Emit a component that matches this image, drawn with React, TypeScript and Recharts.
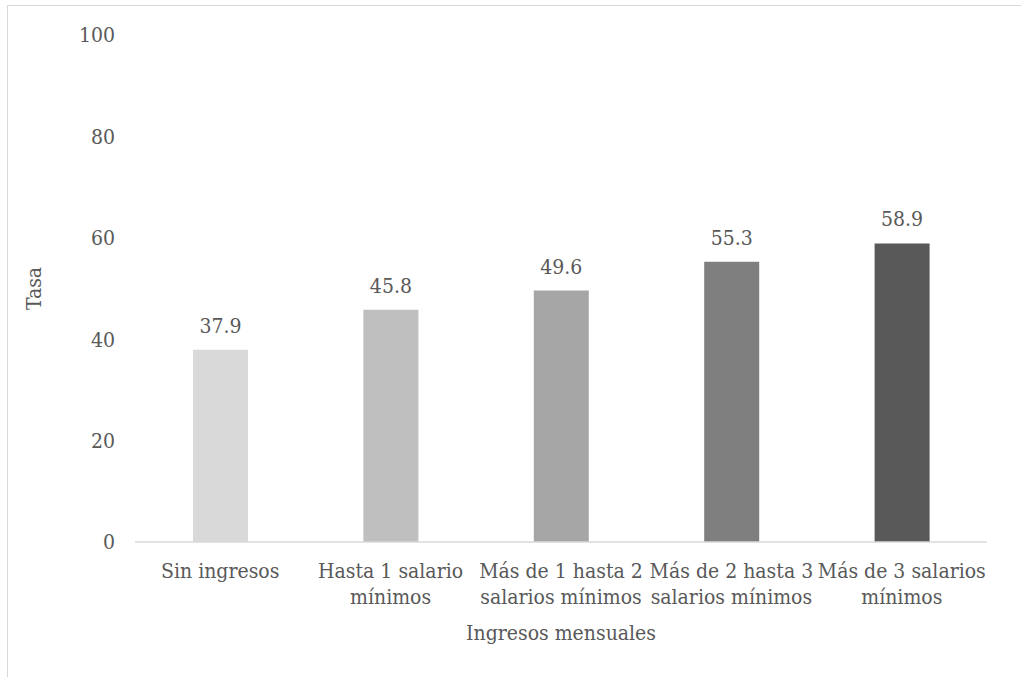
import React from "react";
import {Bar, BarChart, Cell, LabelList, XAxis, YAxis, Label} from "recharts";

const categories = [
    "Sin ingresos",
    "Hasta 1 salario\nmínimos",
    "Más de 1 hasta 2\nsalarios mínimos",
    "Más de 2 hasta 3\nsalarios mínimos",
    "Más de 3 salarios\nmínimos",
];
const tasa = [37.9, 45.8, 49.6, 55.3, 58.9];
const barColors = ["#d9d9d9", "#bfbfbf", "#a6a6a6", "#7f7f7f", "#595959"];
const yTicks = [0, 20, 40, 60, 80, 100];

const chartData = categories.map((c, i) => ({category: c, tasa: tasa[i]}));

const font = "'DejaVu Serif Condensed', 'DejaVu Serif', serif";
const fontSize = 21;
const textColor = "#595959";

const CategoryTick = (props: any) => {
    const {x, y, payload} = props;
    const lines = String(payload.value).split("\n");
    return (
        <text x={x} y={y} textAnchor="middle" fill={textColor} style={{fontSize, fontFamily: font}}>
            {lines.map((l, i) => (
                <tspan key={i} x={x} dy={i === 0 ? 36 : 26}>{l}</tspan>
            ))}
        </text>
    );
};

const TasaLabel = (props: any) => {
    const vb = props.viewBox;
    const cy = vb.y + vb.height / 2;
    return (
        <text x={41} y={cy} transform={`rotate(-90, 41, ${cy})`} textAnchor="middle"
              fill={textColor} style={{fontSize, fontFamily: font}}>Tasa</text>
    );
};

const App: React.FunctionComponent = () => {
    return (
        <div style={{position: "fixed", left: 0, top: 0, width: 1021, height: 677, overflow: "hidden", background: "#fff"}}>
            <div style={{position: "absolute", left: 7, top: 5, width: 1040, height: 720, border: "1.5px solid #d9d9d9"}}/>
            <div style={{position: "absolute", left: 0, top: 0}}>
                <BarChart width={1021} height={677} data={chartData}
                          margin={{top: 35, right: 34, bottom: 0, left: 2}}>
                    <XAxis dataKey="category" height={135} interval={0}
                           tick={<CategoryTick/>} tickLine={false} tickSize={0} tickMargin={0}
                           axisLine={{stroke: "#d9d9d9", strokeWidth: 1.5}}>
                        <Label value="Ingresos mensuales" position="insideBottom" offset={37}
                               fill={textColor} style={{fontSize, fontFamily: font}}/>
                    </XAxis>
                    <YAxis width={133} domain={[0, 100]} ticks={yTicks} axisLine={false} tickLine={false}
                           tickSize={0} tickMargin={20}
                           tick={{fill: textColor, fontSize, style: {fontFamily: font}}}>
                        <Label content={<TasaLabel/>}/>
                    </YAxis>
                    <Bar dataKey="tasa" barSize={55} isAnimationActive={false}>
                        {chartData.map((d, i) => (
                            <Cell key={d.category} fill={barColors[i]}/>
                        ))}
                        <LabelList dataKey="tasa" position="top" offset={17}
                                   fill={textColor} fontSize={fontSize} style={{fontFamily: font}}
                                   formatter={(v: any) => Number(v).toFixed(1)}/>
                    </Bar>
                </BarChart>
            </div>
        </div>
    );
};

export default App;
